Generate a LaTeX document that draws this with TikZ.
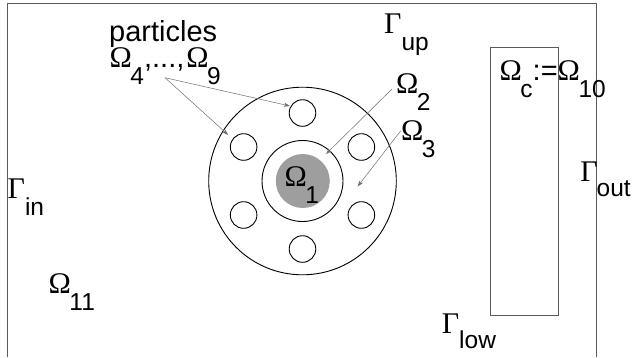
\documentclass[tikz,border=0pt]{standalone}
\usepackage{fontspec}
\usepackage{graphicx}
\usetikzlibrary{arrows.meta,calc}
\newfontfamily\sansf{Liberation Sans}
\newfontfamily\seriff{Liberation Serif}
\newcommand\lowsub[1]{\raisebox{-17pt}{\fontsize{24.5}{24.5}\selectfont\sansf #1}}
\newcommand\sym[1]{{\fontsize{30}{30}\selectfont\seriff #1}}
\newcommand\Om{\sym{Ω}\kern-1.5pt}
\definecolor{framegrey}{HTML}{5A5A5A}
\definecolor{arrowgrey}{HTML}{6E6E6E}
\definecolor{diskgrey}{HTML}{9E9E9E}
\begin{document}
\begin{tikzpicture}[x=1pt,y=-1pt,
  lab/.style={anchor=base west,inner sep=0pt,font=\fontsize{29}{29}\selectfont\sansf},
  ring/.style={draw=black,line width=0.9pt},
  frameline/.style={draw=framegrey,line width=0.9pt},
  pointer/.style={draw=arrowgrey,line width=0.5pt,-{Stealth[length=6pt,width=4pt,inset=1.5pt]}}]
\useasboundingbox (0,0) rectangle (633,357);
% outer domain boundary
\draw[frameline] (7.3,357) -- (7.3,3.5) -- (596.7,3.5) -- (596.7,357);
% control region
\node[frameline,draw,minimum width=67.7pt,minimum height=268.3pt,inner sep=0pt,anchor=north west] (omc) at (490,46.7) {};
% rings
\node[ring,circle,minimum size=187.6pt,inner sep=0pt] (outer) at (302.5,181) {};
\node[ring,circle,minimum size=81pt,inner sep=0pt] (mid) at (302.5,181) {};
\node[circle,fill=diskgrey,minimum size=54pt,inner sep=0pt] (disk) at (302.8,181) {};
% particles
\foreach \a/\n in {90/p1,150/p2,210/p3,270/p4,330/p5,30/p6}
  \node[ring,circle,minimum size=26.6pt,inner sep=0pt] (\n) at ($(302.5,181)+(\a:68)$) {};
% labels
\node[lab] (tpart) at (109,41.7) {particles};
\node[lab] (tpartom) at (109.5,67.5) {\Om\lowsub{4},...,\hspace{2pt}\Om\lowsub{9}};
\node[lab] (tom1) at (284.5,186) {\Om\lowsub{1}};
\node[lab] (tom2) at (396,93.3) {\Om\lowsub{2}};
\node[lab] (tom3) at (401,140) {\Om\lowsub{3}};
\node[lab] (tom11) at (48.5,293) {\Om\lowsub{11}};
\node[lab] (tomc) at (499.5,80) {\Om\lowsub{c}:=\Om\lowsub{10}};
\node[lab] (tgup) at (384,33.3) {\sym{Γ}\lowsub{up}};
\node[lab] (tgin) at (7.5,198) {\sym{Γ}\lowsub{in}};
\node[lab] (tgout) at (580.2,181.7) {\sym{Γ}\kern-1pt\raisebox{-15pt}{\fontsize{24.5}{24.5}\selectfont out}};
\node[lab] (tglow) at (441.7,333) {\sym{Γ}\raisebox{-15.3pt}{\fontsize{24.5}{24.5}\selectfont low}};
% pointer coordinates
\coordinate (ps) at (165,77.7);
\coordinate (pt1) at (290,106);
\coordinate (pt2) at (228.3,135);
\coordinate (o2s) at (392,89);
\coordinate (o2t) at (326,154);
\coordinate (o3s) at (400.8,130.7);
\coordinate (o3t) at (357.6,186.5);
\draw[pointer] (ps) -- (pt1);
\draw[pointer] (ps) -- (pt2);
\draw[pointer] (o2s) -- (o2t);
\draw[pointer] (o3s) -- (o3t);
\end{tikzpicture}
\end{document}
